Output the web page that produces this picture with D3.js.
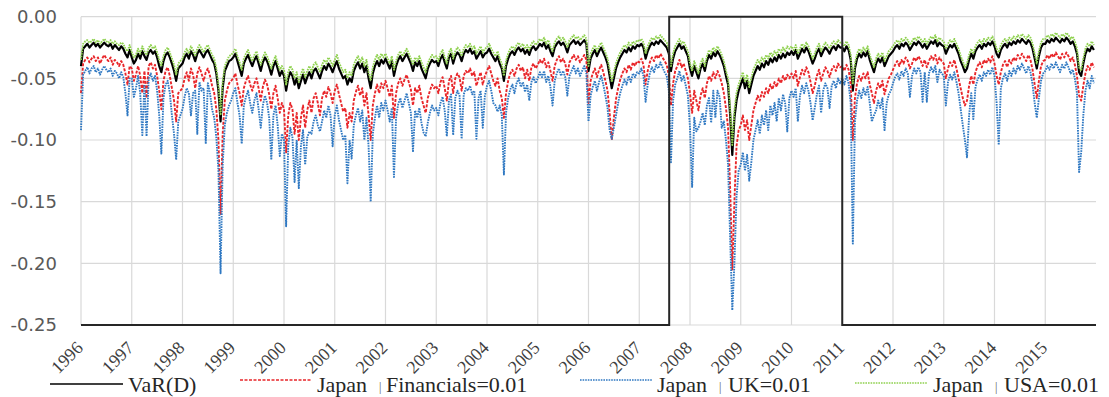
<!DOCTYPE html>
<html>
<head>
<meta charset="utf-8">
<script src="https://cdn.jsdelivr.net/npm/d3@7"></script>
<style>
  body { margin: 0; background: #fff; }
  svg { display: block; }
</style>
</head>
<body>
<svg id="chart" width="1109" height="397"></svg>
<script>
// half-month samples, 24 per year, Jan 1996 .. Dec 2015
const varD = [
  -0.040, -0.026, -0.024, -0.022, -0.025, -0.023, -0.021, -0.024, -0.022, -0.025, -0.023, -0.021, -0.023, -0.024, -0.022, -0.026, -0.023, -0.025, -0.027, -0.024, -0.026, -0.030, -0.033, -0.027,
  -0.033, -0.038, -0.035, -0.030, -0.034, -0.028, -0.032, -0.035, -0.029, -0.027, -0.030, -0.028, -0.033, -0.040, -0.045, -0.036, -0.031, -0.029, -0.033, -0.038, -0.044, -0.052, -0.042, -0.040,
  -0.038, -0.033, -0.030, -0.034, -0.028, -0.031, -0.036, -0.030, -0.027, -0.030, -0.033, -0.029, -0.027, -0.031, -0.035, -0.038, -0.046, -0.060, -0.085, -0.058, -0.044, -0.040, -0.036, -0.035,
  -0.033, -0.030, -0.036, -0.042, -0.048, -0.038, -0.034, -0.031, -0.036, -0.040, -0.035, -0.032, -0.038, -0.044, -0.037, -0.033, -0.036, -0.041, -0.047, -0.040, -0.036, -0.042, -0.048, -0.044,
  -0.048, -0.060, -0.050, -0.045, -0.048, -0.055, -0.050, -0.058, -0.052, -0.047, -0.054, -0.049, -0.045, -0.050, -0.044, -0.042, -0.046, -0.050, -0.044, -0.040, -0.043, -0.038, -0.041, -0.045,
  -0.040, -0.036, -0.042, -0.046, -0.050, -0.048, -0.055, -0.050, -0.053, -0.044, -0.040, -0.037, -0.042, -0.038, -0.045, -0.040, -0.050, -0.058, -0.046, -0.040, -0.036, -0.040, -0.035, -0.038,
  -0.034, -0.038, -0.042, -0.036, -0.048, -0.040, -0.035, -0.032, -0.036, -0.033, -0.030, -0.034, -0.038, -0.044, -0.037, -0.040, -0.036, -0.042, -0.046, -0.050, -0.042, -0.038, -0.035, -0.037,
  -0.036, -0.040, -0.034, -0.031, -0.037, -0.042, -0.033, -0.030, -0.038, -0.032, -0.029, -0.031, -0.036, -0.030, -0.027, -0.029, -0.026, -0.030, -0.028, -0.034, -0.031, -0.028, -0.033, -0.030,
  -0.029, -0.026, -0.030, -0.033, -0.036, -0.032, -0.038, -0.042, -0.052, -0.040, -0.034, -0.030, -0.028, -0.031, -0.027, -0.025, -0.028, -0.026, -0.030, -0.027, -0.031, -0.026, -0.024, -0.027,
  -0.025, -0.022, -0.024, -0.021, -0.026, -0.023, -0.028, -0.032, -0.025, -0.022, -0.020, -0.023, -0.021, -0.024, -0.029, -0.023, -0.021, -0.019, -0.022, -0.020, -0.023, -0.021, -0.019, -0.022,
  -0.044, -0.034, -0.030, -0.027, -0.032, -0.028, -0.025, -0.029, -0.033, -0.038, -0.048, -0.058, -0.050, -0.042, -0.037, -0.033, -0.030, -0.027, -0.029, -0.025, -0.028, -0.024, -0.026, -0.023,
  -0.024, -0.022, -0.025, -0.034, -0.028, -0.024, -0.021, -0.023, -0.020, -0.022, -0.019, -0.021, -0.023, -0.025, -0.030, -0.044, -0.034, -0.028, -0.025, -0.022, -0.026, -0.024, -0.028, -0.032,
  -0.042, -0.048, -0.040, -0.045, -0.050, -0.042, -0.038, -0.044, -0.036, -0.031, -0.034, -0.029, -0.032, -0.028, -0.031, -0.035, -0.040, -0.048, -0.055, -0.080, -0.112, -0.082, -0.068, -0.060,
  -0.055, -0.050, -0.058, -0.052, -0.062, -0.055, -0.048, -0.044, -0.040, -0.043, -0.038, -0.041, -0.036, -0.039, -0.034, -0.037, -0.033, -0.036, -0.031, -0.034, -0.030, -0.033, -0.029, -0.031,
  -0.028, -0.031, -0.027, -0.034, -0.030, -0.026, -0.029, -0.025, -0.028, -0.033, -0.038, -0.034, -0.029, -0.026, -0.032, -0.028, -0.025, -0.027, -0.030, -0.026, -0.024, -0.027, -0.023, -0.025,
  -0.025, -0.028, -0.024, -0.027, -0.035, -0.060, -0.042, -0.034, -0.030, -0.033, -0.029, -0.032, -0.028, -0.035, -0.040, -0.045, -0.038, -0.034, -0.037, -0.033, -0.040, -0.036, -0.032, -0.030,
  -0.028, -0.025, -0.023, -0.026, -0.022, -0.024, -0.021, -0.023, -0.027, -0.024, -0.021, -0.023, -0.020, -0.022, -0.025, -0.022, -0.026, -0.023, -0.020, -0.022, -0.019, -0.024, -0.021, -0.023,
  -0.024, -0.030, -0.026, -0.023, -0.025, -0.022, -0.026, -0.030, -0.036, -0.040, -0.045, -0.042, -0.035, -0.030, -0.034, -0.028, -0.025, -0.023, -0.026, -0.022, -0.024, -0.021, -0.023, -0.020,
  -0.024, -0.030, -0.033, -0.027, -0.024, -0.022, -0.025, -0.021, -0.023, -0.020, -0.022, -0.019, -0.021, -0.018, -0.020, -0.022, -0.019, -0.021, -0.026, -0.034, -0.042, -0.032, -0.025, -0.022,
  -0.022, -0.019, -0.021, -0.018, -0.020, -0.017, -0.019, -0.021, -0.018, -0.020, -0.017, -0.019, -0.022, -0.020, -0.024, -0.030, -0.045, -0.048, -0.038, -0.030, -0.026, -0.028, -0.024, -0.027
];

const japanFin = [
  -0.062, -0.038, -0.035, -0.033, -0.037, -0.034, -0.032, -0.036, -0.033, -0.038, -0.034, -0.031, -0.034, -0.036, -0.033, -0.039, -0.035, -0.037, -0.040, -0.036, -0.039, -0.046, -0.055, -0.040,
  -0.042, -0.052, -0.047, -0.040, -0.048, -0.062, -0.044, -0.066, -0.040, -0.037, -0.042, -0.039, -0.048, -0.060, -0.075, -0.052, -0.044, -0.041, -0.048, -0.058, -0.068, -0.085, -0.062, -0.060,
  -0.058, -0.050, -0.045, -0.052, -0.042, -0.047, -0.058, -0.046, -0.041, -0.046, -0.052, -0.045, -0.042, -0.048, -0.056, -0.062, -0.075, -0.100, -0.160, -0.095, -0.068, -0.060, -0.054, -0.052,
  -0.050, -0.046, -0.055, -0.062, -0.072, -0.058, -0.052, -0.048, -0.055, -0.060, -0.054, -0.050, -0.058, -0.068, -0.057, -0.051, -0.055, -0.063, -0.075, -0.062, -0.056, -0.066, -0.078, -0.070,
  -0.075, -0.110, -0.080, -0.070, -0.075, -0.095, -0.078, -0.100, -0.082, -0.072, -0.090, -0.076, -0.068, -0.078, -0.066, -0.062, -0.070, -0.080, -0.066, -0.060, -0.065, -0.057, -0.062, -0.070,
  -0.060, -0.055, -0.063, -0.070, -0.077, -0.074, -0.090, -0.078, -0.085, -0.068, -0.061, -0.056, -0.064, -0.058, -0.072, -0.062, -0.080, -0.100, -0.072, -0.062, -0.055, -0.062, -0.054, -0.058,
  -0.052, -0.058, -0.065, -0.056, -0.082, -0.062, -0.054, -0.050, -0.056, -0.051, -0.047, -0.053, -0.059, -0.072, -0.058, -0.062, -0.056, -0.066, -0.072, -0.078, -0.066, -0.060, -0.055, -0.058,
  -0.056, -0.062, -0.053, -0.049, -0.058, -0.068, -0.052, -0.048, -0.062, -0.050, -0.046, -0.049, -0.060, -0.048, -0.044, -0.046, -0.042, -0.048, -0.045, -0.056, -0.050, -0.045, -0.055, -0.048,
  -0.044, -0.040, -0.046, -0.052, -0.056, -0.050, -0.060, -0.066, -0.082, -0.062, -0.052, -0.046, -0.043, -0.048, -0.042, -0.039, -0.044, -0.041, -0.050, -0.043, -0.052, -0.041, -0.038, -0.042,
  -0.039, -0.035, -0.038, -0.034, -0.041, -0.037, -0.044, -0.052, -0.040, -0.035, -0.032, -0.037, -0.034, -0.038, -0.047, -0.037, -0.034, -0.031, -0.035, -0.032, -0.037, -0.034, -0.031, -0.035,
  -0.070, -0.052, -0.046, -0.042, -0.049, -0.043, -0.039, -0.045, -0.052, -0.060, -0.078, -0.100, -0.082, -0.067, -0.058, -0.051, -0.046, -0.042, -0.045, -0.039, -0.043, -0.037, -0.040, -0.036,
  -0.037, -0.034, -0.039, -0.055, -0.044, -0.037, -0.033, -0.036, -0.031, -0.034, -0.030, -0.033, -0.036, -0.039, -0.048, -0.072, -0.054, -0.044, -0.040, -0.035, -0.041, -0.038, -0.044, -0.050,
  -0.062, -0.078, -0.060, -0.068, -0.076, -0.064, -0.058, -0.066, -0.054, -0.048, -0.052, -0.045, -0.050, -0.044, -0.048, -0.054, -0.062, -0.074, -0.090, -0.140, -0.205, -0.150, -0.105, -0.092,
  -0.088, -0.080, -0.092, -0.084, -0.100, -0.088, -0.076, -0.070, -0.064, -0.068, -0.061, -0.065, -0.058, -0.062, -0.055, -0.059, -0.053, -0.057, -0.050, -0.054, -0.048, -0.052, -0.047, -0.050,
  -0.046, -0.050, -0.044, -0.056, -0.049, -0.043, -0.047, -0.041, -0.045, -0.053, -0.062, -0.056, -0.048, -0.043, -0.052, -0.046, -0.041, -0.044, -0.049, -0.043, -0.040, -0.044, -0.038, -0.041,
  -0.040, -0.044, -0.039, -0.043, -0.055, -0.100, -0.066, -0.054, -0.048, -0.052, -0.046, -0.050, -0.045, -0.055, -0.062, -0.070, -0.060, -0.054, -0.058, -0.052, -0.063, -0.056, -0.050, -0.047,
  -0.043, -0.039, -0.036, -0.040, -0.035, -0.038, -0.033, -0.036, -0.042, -0.038, -0.033, -0.036, -0.032, -0.035, -0.040, -0.035, -0.041, -0.036, -0.032, -0.035, -0.031, -0.038, -0.033, -0.036,
  -0.038, -0.050, -0.042, -0.037, -0.040, -0.035, -0.042, -0.050, -0.058, -0.066, -0.072, -0.068, -0.056, -0.048, -0.055, -0.045, -0.040, -0.037, -0.041, -0.035, -0.038, -0.034, -0.037, -0.032,
  -0.038, -0.048, -0.055, -0.045, -0.039, -0.036, -0.041, -0.035, -0.038, -0.033, -0.036, -0.031, -0.034, -0.030, -0.033, -0.036, -0.031, -0.035, -0.043, -0.055, -0.066, -0.052, -0.040, -0.036,
  -0.035, -0.031, -0.034, -0.030, -0.033, -0.029, -0.032, -0.035, -0.030, -0.033, -0.029, -0.032, -0.036, -0.033, -0.039, -0.048, -0.064, -0.068, -0.056, -0.046, -0.040, -0.043, -0.037, -0.041
];

const japanUK = [
  -0.092, -0.047, -0.044, -0.041, -0.046, -0.042, -0.040, -0.045, -0.042, -0.047, -0.043, -0.040, -0.043, -0.045, -0.042, -0.048, -0.044, -0.046, -0.050, -0.045, -0.049, -0.062, -0.080, -0.050,
  -0.050, -0.065, -0.058, -0.048, -0.062, -0.096, -0.055, -0.097, -0.050, -0.046, -0.052, -0.048, -0.060, -0.080, -0.111, -0.066, -0.055, -0.052, -0.062, -0.080, -0.095, -0.116, -0.085, -0.080,
  -0.075, -0.065, -0.058, -0.062, -0.080, -0.062, -0.060, -0.095, -0.053, -0.060, -0.058, -0.103, -0.054, -0.062, -0.075, -0.082, -0.098, -0.125, -0.208, -0.120, -0.088, -0.078, -0.072, -0.068,
  -0.062, -0.058, -0.070, -0.080, -0.103, -0.072, -0.065, -0.060, -0.070, -0.078, -0.068, -0.062, -0.075, -0.090, -0.072, -0.064, -0.070, -0.082, -0.116, -0.080, -0.072, -0.088, -0.113, -0.095,
  -0.100, -0.170, -0.105, -0.090, -0.098, -0.134, -0.100, -0.139, -0.105, -0.092, -0.120, -0.098, -0.093, -0.095, -0.085, -0.080, -0.088, -0.093, -0.085, -0.076, -0.082, -0.072, -0.080, -0.105,
  -0.080, -0.072, -0.084, -0.092, -0.100, -0.096, -0.135, -0.100, -0.115, -0.088, -0.080, -0.074, -0.085, -0.076, -0.100, -0.082, -0.105, -0.150, -0.095, -0.082, -0.072, -0.082, -0.070, -0.076,
  -0.068, -0.076, -0.085, -0.074, -0.130, -0.082, -0.071, -0.066, -0.074, -0.068, -0.062, -0.070, -0.078, -0.109, -0.076, -0.082, -0.074, -0.086, -0.094, -0.097, -0.086, -0.078, -0.072, -0.076,
  -0.074, -0.080, -0.070, -0.065, -0.076, -0.097, -0.068, -0.063, -0.096, -0.066, -0.060, -0.064, -0.099, -0.063, -0.058, -0.060, -0.056, -0.063, -0.060, -0.099, -0.066, -0.060, -0.090, -0.064,
  -0.056, -0.052, -0.060, -0.070, -0.072, -0.077, -0.072, -0.080, -0.128, -0.078, -0.066, -0.059, -0.055, -0.062, -0.054, -0.050, -0.057, -0.053, -0.061, -0.055, -0.068, -0.053, -0.049, -0.054,
  -0.050, -0.045, -0.049, -0.044, -0.053, -0.048, -0.057, -0.072, -0.052, -0.046, -0.042, -0.048, -0.044, -0.049, -0.064, -0.048, -0.044, -0.040, -0.046, -0.042, -0.048, -0.044, -0.040, -0.046,
  -0.085, -0.064, -0.057, -0.052, -0.060, -0.053, -0.048, -0.055, -0.064, -0.074, -0.092, -0.099, -0.090, -0.080, -0.070, -0.062, -0.056, -0.051, -0.055, -0.048, -0.053, -0.046, -0.049, -0.045,
  -0.046, -0.042, -0.048, -0.069, -0.055, -0.046, -0.041, -0.045, -0.039, -0.042, -0.037, -0.041, -0.045, -0.048, -0.060, -0.118, -0.068, -0.055, -0.050, -0.044, -0.052, -0.048, -0.056, -0.064,
  -0.090, -0.138, -0.082, -0.093, -0.090, -0.085, -0.078, -0.088, -0.072, -0.066, -0.086, -0.060, -0.082, -0.060, -0.065, -0.090, -0.085, -0.100, -0.120, -0.180, -0.238, -0.200, -0.146, -0.125,
  -0.120, -0.110, -0.125, -0.112, -0.133, -0.118, -0.100, -0.092, -0.084, -0.095, -0.080, -0.088, -0.076, -0.092, -0.072, -0.080, -0.070, -0.085, -0.066, -0.076, -0.063, -0.070, -0.093, -0.066,
  -0.060, -0.065, -0.058, -0.085, -0.064, -0.056, -0.062, -0.054, -0.060, -0.070, -0.084, -0.074, -0.063, -0.056, -0.078, -0.060, -0.054, -0.058, -0.074, -0.056, -0.052, -0.058, -0.050, -0.054,
  -0.050, -0.055, -0.048, -0.054, -0.070, -0.184, -0.085, -0.068, -0.060, -0.066, -0.058, -0.064, -0.057, -0.070, -0.085, -0.080, -0.076, -0.068, -0.074, -0.066, -0.092, -0.070, -0.063, -0.060,
  -0.054, -0.049, -0.046, -0.051, -0.044, -0.048, -0.042, -0.046, -0.065, -0.048, -0.042, -0.046, -0.041, -0.045, -0.069, -0.045, -0.069, -0.046, -0.041, -0.045, -0.040, -0.053, -0.043, -0.046,
  -0.048, -0.072, -0.053, -0.047, -0.051, -0.045, -0.053, -0.062, -0.075, -0.088, -0.100, -0.114, -0.080, -0.062, -0.083, -0.057, -0.051, -0.047, -0.052, -0.045, -0.048, -0.043, -0.047, -0.041,
  -0.048, -0.070, -0.104, -0.058, -0.050, -0.046, -0.052, -0.044, -0.048, -0.042, -0.046, -0.040, -0.043, -0.038, -0.042, -0.046, -0.040, -0.045, -0.055, -0.070, -0.082, -0.066, -0.052, -0.046,
  -0.044, -0.040, -0.043, -0.038, -0.042, -0.037, -0.041, -0.045, -0.039, -0.042, -0.037, -0.041, -0.046, -0.043, -0.050, -0.062, -0.126, -0.110, -0.080, -0.060, -0.052, -0.058, -0.048, -0.054
];

const japanUSA = [
  -0.035, -0.022, -0.020, -0.019, -0.021, -0.020, -0.018, -0.021, -0.019, -0.022, -0.020, -0.018, -0.020, -0.021, -0.019, -0.022, -0.020, -0.022, -0.023, -0.021, -0.022, -0.026, -0.028, -0.023,
  -0.029, -0.033, -0.031, -0.026, -0.030, -0.024, -0.028, -0.031, -0.025, -0.023, -0.026, -0.024, -0.029, -0.035, -0.040, -0.032, -0.027, -0.025, -0.029, -0.034, -0.039, -0.047, -0.038, -0.036,
  -0.034, -0.029, -0.026, -0.030, -0.024, -0.027, -0.032, -0.026, -0.023, -0.026, -0.029, -0.025, -0.023, -0.027, -0.031, -0.034, -0.042, -0.055, -0.080, -0.053, -0.040, -0.036, -0.032, -0.031,
  -0.029, -0.026, -0.032, -0.037, -0.043, -0.034, -0.030, -0.027, -0.032, -0.036, -0.031, -0.028, -0.034, -0.039, -0.033, -0.029, -0.032, -0.037, -0.042, -0.036, -0.032, -0.038, -0.043, -0.040,
  -0.043, -0.055, -0.045, -0.040, -0.043, -0.050, -0.045, -0.053, -0.047, -0.042, -0.049, -0.044, -0.040, -0.045, -0.039, -0.037, -0.041, -0.045, -0.039, -0.035, -0.038, -0.033, -0.036, -0.040,
  -0.035, -0.031, -0.037, -0.041, -0.045, -0.043, -0.050, -0.045, -0.048, -0.039, -0.035, -0.032, -0.037, -0.033, -0.040, -0.035, -0.045, -0.052, -0.041, -0.035, -0.031, -0.035, -0.030, -0.033,
  -0.030, -0.034, -0.038, -0.032, -0.043, -0.036, -0.031, -0.028, -0.032, -0.029, -0.026, -0.030, -0.034, -0.039, -0.033, -0.036, -0.032, -0.037, -0.041, -0.045, -0.038, -0.034, -0.031, -0.033,
  -0.032, -0.036, -0.030, -0.027, -0.033, -0.038, -0.029, -0.026, -0.034, -0.028, -0.025, -0.027, -0.032, -0.026, -0.023, -0.025, -0.022, -0.026, -0.024, -0.030, -0.027, -0.024, -0.029, -0.026,
  -0.025, -0.022, -0.026, -0.029, -0.032, -0.028, -0.034, -0.038, -0.048, -0.036, -0.030, -0.026, -0.024, -0.027, -0.023, -0.021, -0.024, -0.022, -0.026, -0.023, -0.027, -0.022, -0.020, -0.023,
  -0.021, -0.018, -0.020, -0.017, -0.022, -0.019, -0.024, -0.028, -0.021, -0.018, -0.016, -0.019, -0.017, -0.020, -0.025, -0.019, -0.017, -0.015, -0.018, -0.016, -0.019, -0.017, -0.015, -0.018,
  -0.040, -0.030, -0.026, -0.023, -0.028, -0.024, -0.021, -0.025, -0.029, -0.034, -0.043, -0.053, -0.045, -0.038, -0.033, -0.029, -0.026, -0.023, -0.025, -0.021, -0.024, -0.020, -0.022, -0.019,
  -0.020, -0.018, -0.021, -0.030, -0.024, -0.020, -0.017, -0.019, -0.016, -0.018, -0.015, -0.017, -0.019, -0.021, -0.026, -0.040, -0.030, -0.024, -0.021, -0.018, -0.022, -0.020, -0.024, -0.028,
  -0.038, -0.044, -0.036, -0.041, -0.046, -0.038, -0.034, -0.040, -0.032, -0.027, -0.030, -0.025, -0.028, -0.024, -0.027, -0.031, -0.036, -0.044, -0.050, -0.075, -0.104, -0.076, -0.062, -0.055,
  -0.050, -0.045, -0.053, -0.047, -0.057, -0.050, -0.043, -0.039, -0.035, -0.038, -0.033, -0.036, -0.031, -0.034, -0.029, -0.032, -0.028, -0.031, -0.026, -0.029, -0.025, -0.028, -0.024, -0.026,
  -0.024, -0.027, -0.023, -0.030, -0.026, -0.022, -0.025, -0.021, -0.024, -0.029, -0.034, -0.030, -0.025, -0.022, -0.028, -0.024, -0.021, -0.023, -0.026, -0.022, -0.020, -0.023, -0.019, -0.021,
  -0.021, -0.024, -0.020, -0.023, -0.031, -0.055, -0.038, -0.030, -0.026, -0.029, -0.025, -0.028, -0.024, -0.031, -0.036, -0.041, -0.034, -0.030, -0.033, -0.029, -0.036, -0.032, -0.028, -0.026,
  -0.024, -0.021, -0.019, -0.022, -0.018, -0.020, -0.017, -0.019, -0.023, -0.020, -0.017, -0.019, -0.016, -0.018, -0.021, -0.018, -0.022, -0.019, -0.016, -0.018, -0.015, -0.020, -0.017, -0.019,
  -0.020, -0.026, -0.022, -0.019, -0.021, -0.018, -0.022, -0.026, -0.032, -0.036, -0.041, -0.038, -0.031, -0.026, -0.030, -0.024, -0.021, -0.019, -0.022, -0.018, -0.020, -0.017, -0.019, -0.016,
  -0.020, -0.026, -0.029, -0.023, -0.020, -0.018, -0.021, -0.017, -0.019, -0.016, -0.018, -0.015, -0.017, -0.014, -0.016, -0.018, -0.015, -0.017, -0.022, -0.030, -0.038, -0.028, -0.021, -0.018,
  -0.018, -0.015, -0.017, -0.014, -0.016, -0.013, -0.015, -0.017, -0.014, -0.016, -0.013, -0.015, -0.018, -0.016, -0.020, -0.026, -0.041, -0.044, -0.034, -0.026, -0.022, -0.024, -0.020, -0.023
];

const startYear = 1996;
const perYear = 24;
const yearLabels = ["1996", "1997", "1998", "1999", "2000", "2001", "2002", "2003", "2004", "2005",
  "2006", "2007", "2008", "2009", "2010", "2011", "2012", "2013", "2014", "2015"];
const yTicks = [0, -0.05, -0.10, -0.15, -0.20, -0.25];
// highlighted crisis window (boxed in the figure)
const boxFrom = 2007.59;
const boxTo = 2011.0;

const series = [
  { name: "VaR(D)", values: varD, color: "#000000", dash: null, width: 2.2 },
  { name: "Financials=0.01", values: japanFin, color: "#e8262a", dash: "3,1.5", width: 1.9 },
  { name: "UK=0.01", values: japanUK, color: "#2f78c2", dash: "1.6,1", width: 1.9 },
  { name: "USA=0.01", values: japanUSA, color: "#8fd14f", dash: "1.6,1", width: 1.9 }
];

const serifFont = "'Liberation Serif', 'Times New Roman', serif";

const svg = d3.select("#chart");
const plotL = 81, plotR = 1096, plotT = 16.7, plotB = 325;

const x = d3.scaleLinear().domain([1996, 2016]).range([plotL, plotR]);
const y = d3.scaleLinear().domain([0, -0.25]).range([plotT, plotB]);

// gridlines
const grid = svg.append("g");
grid.selectAll("line.h").data(yTicks).enter().append("line")
  .attr("x1", plotL).attr("x2", plotR)
  .attr("y1", d => y(d)).attr("y2", d => y(d))
  .attr("stroke", "#d9d9d9").attr("stroke-width", 1.2);
grid.selectAll("line.v").data(yearLabels).enter().append("line")
  .attr("x1", d => x(+d)).attr("x2", d => x(+d))
  .attr("y1", plotT).attr("y2", plotB)
  .attr("stroke", "#d9d9d9").attr("stroke-width", 1.2);

// series
const line = d3.line()
  .x((d, i) => x(startYear + i / perYear))
  .y(d => y(d));

svg.append("g").selectAll("path").data(series).enter().append("path")
  .attr("d", d => line(d.values))
  .attr("fill", "none")
  .attr("stroke", d => d.color)
  .attr("stroke-width", d => d.width)
  .attr("stroke-dasharray", d => d.dash)
  .attr("stroke-linejoin", "round");

// axis baseline with the boxed period
const xb0 = x(boxFrom), xb1 = x(boxTo);
svg.append("path")
  .attr("d", `M${plotL},${y(-0.25)}H${xb0}V${y(0)}H${xb1}V${y(-0.25)}H${plotR}`)
  .attr("fill", "none")
  .attr("stroke", "#262626")
  .attr("stroke-width", 2);

// y labels
const yAxis = svg.append("g")
  .attr("transform", `translate(${plotL - 24},0)`)
  .call(d3.axisLeft(y).tickValues(yTicks).tickSize(0).tickPadding(0)
    .tickFormat(d => d.toFixed(2)));
yAxis.select(".domain").remove();
yAxis.selectAll("text")
  .attr("font-family", "DejaVu Sans")
  .attr("font-size", 18)
  .attr("fill", "#595959");

// x labels
svg.append("g").selectAll("text").data(yearLabels).enter().append("text")
  .style("font-family", serifFont)
  .style("font-size", "18px")
  .attr("transform", d => `translate(${x(+d) + 3},${plotB + 24}) rotate(-45)`)
  .attr("text-anchor", "end")
  .attr("fill", "#404040")
  .text(d => d);

// legend
const legendItems = [
  { s: 0, x0: 50, x1: 123, ly: 384, prefix: null, tx: 128 },
  { s: 1, x0: 240, x1: 312, ly: 380, prefix: 317, bar: 379, tx: 386 },
  { s: 2, x0: 580, x1: 652, ly: 380, prefix: 657, bar: 719, tx: 728 },
  { s: 3, x0: 855, x1: 927, ly: 383, prefix: 933, bar: 995, tx: 1004 }
];
const leg = svg.append("g").attr("fill", "#262626");
const legText = (tx, ty, size, str) => leg.append("text")
  .attr("x", tx).attr("y", ty)
  .style("font-family", serifFont)
  .style("font-size", size + "px")
  .text(str);
legendItems.forEach(it => {
  const s = series[it.s];
  leg.append("line")
    .attr("x1", it.x0).attr("x2", it.x1)
    .attr("y1", it.ly).attr("y2", it.ly)
    .attr("stroke", s.color)
    .attr("stroke-width", 1.4)
    .attr("stroke-dasharray", s.dash);
  if (it.prefix !== null) {
    legText(it.prefix, 392, 22, "Japan");
    legText(it.bar, 391, 12, "|").attr("fill", "#555");
  }
  legText(it.tx, 392, 22, s.name);
});
</script>
</body>
</html>
